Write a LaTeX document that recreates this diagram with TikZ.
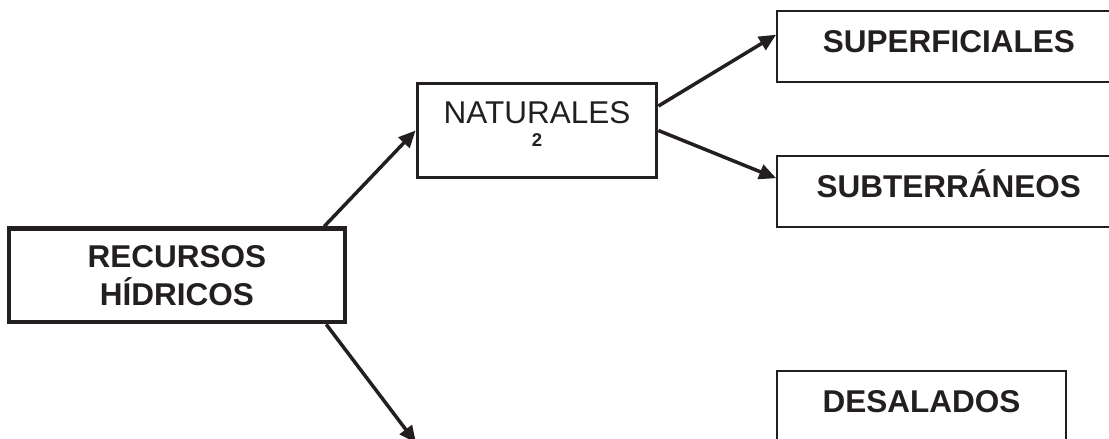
\documentclass[tikz,border=0pt]{standalone}
\usepackage{fontspec}
\setmainfont{Liberation Sans}
\usetikzlibrary{arrows.meta}
\definecolor{ink}{HTML}{231F20}

\begin{document}
\begin{tikzpicture}[x=1pt,y=-1pt,
        caja/.style={draw=ink,text=ink,rectangle,inner sep=0pt,
            font=\fontsize{31.5}{38}\selectfont\bfseries},
        hoja/.style={caja,line width=2.3pt,minimum width=343pt,minimum height=71pt,
            text height=24pt,text depth=12.4pt},
        flecha/.style={draw=ink,line width=3.5pt,-{Triangle[length=17pt,width=15pt]}}]
    \useasboundingbox (0,0) rectangle (1109,439);
    \clip (0,0) rectangle (1109,439);
    % cajas
    \node [caja,line width=4.5pt,minimum width=336pt,minimum height=93.5pt,align=center]
        (rec) at (177,275.4) {RECURSOS\\HÍDRICOS};
    \node [caja,line width=3.8pt,minimum width=239pt,minimum height=94pt,align=center,
        font=\fontsize{31.5}{38}\selectfont,text depth=13pt]
        (nat) at (537,130.5) {NATURALES\\[-15.5pt]{\fontsize{18.5}{18.5}\selectfont\bfseries 2}};
    \node [hoja] (sup) at (948.8,46.7) {SUPERFICIALES};
    \node [hoja] (sub) at (948.8,191.2) {SUBTERRÁNEOS};
    \node [hoja,minimum width=288.4pt] (des) at (921.5,406.2) {DESALADOS};
    \coordinate (abajo) at (416,443);
    % flechas
    \draw [flecha] ([xshift=-23pt]rec.north east) -- (nat.west);
    \draw [flecha] ([yshift=24.5pt]nat.east) -- ([yshift=12pt]sup.west);
    \draw [flecha] (nat.east) -- ([yshift=13pt]sub.west);
    \draw [flecha] ([xshift=-21pt]rec.south east) -- (abajo);
\end{tikzpicture}
\end{document}
